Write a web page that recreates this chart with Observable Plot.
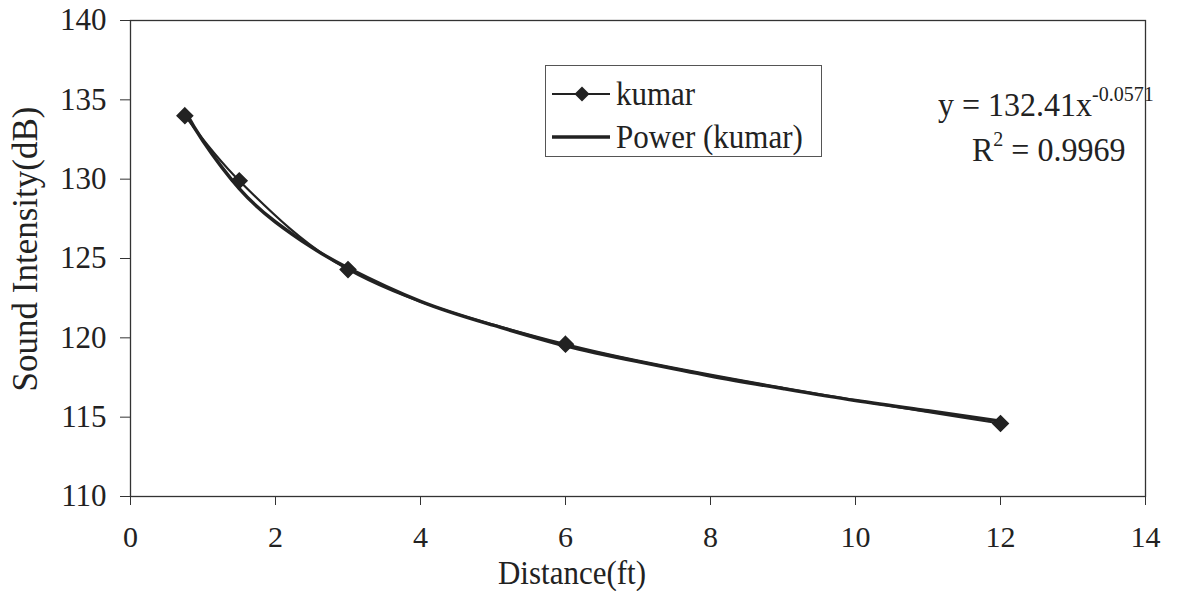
<!DOCTYPE html>
<html>
<head>
<meta charset="utf-8">
<script src="https://cdn.jsdelivr.net/npm/d3@7"></script>
<script src="https://cdn.jsdelivr.net/npm/@observablehq/plot@0.6"></script>
<style>
  html, body { margin: 0; padding: 0; background: #fff; }
  #wrap { position: relative; width: 1181px; height: 591px; font-family: "Liberation Serif", "Times New Roman", serif; color: #222; }
  #wrap > svg { position: absolute; left: 0; top: 0; }
  #wrap svg text { font-family: "Liberation Serif", "Times New Roman", serif; }
  #wrap svg g[aria-label="y-axis tick label"] { font-size: 31px; }
  #wrap svg g[aria-label="x-axis tick label"] { font-size: 30px; }
  .ov { position: absolute; white-space: nowrap; line-height: 1; }
  #ylabel { left: 25px; top: 249px; font-size: 35px; transform: translate(-50%, -50%) rotate(-90deg); }
  #xlabel { left: 572px; top: 573px; font-size: 31px; transform: translate(-50%, -50%) scaleY(1.08); }
  #legend { left: 545px; top: 65px; width: 277px; height: 92px; border: 1.5px solid #555; box-sizing: border-box; background: #fff; }
  .lg { position: absolute; font-size: 31px; transform: translateY(-50%) scaleY(1.08); }
  .lgsym { position: absolute; }
  #eq { left: 938px; top: 84px; font-size: 32px; transform: scaleY(1.08); }
  #eq sup { font-size: 20px; vertical-align: 14px; }
  #r2 { left: 972px; top: 129px; font-size: 32px; transform: scaleY(1.08); }
  #r2 sup { font-size: 20px; vertical-align: 14px; }
</style>
</head>
<body>
<div id="wrap"></div>
<script>
// Series: kumar (measured)
const distance = [0.75, 1.5, 3, 6, 12];
const intensity = [134.0, 129.9, 124.3, 119.6, 114.6];
// Power (kumar) trendline
const trendX = [0.75, 1, 1.5, 2, 2.5, 3, 4, 5, 6, 7, 8, 9, 10, 11, 12];
const trendY = [134.3, 132.4, 129.4, 127.3, 125.7, 124.4, 122.3, 120.8, 119.5, 118.5, 117.6, 116.8, 116.05, 115.4, 114.75];
// Axis ticks
const xTicks = [0, 2, 4, 6, 8, 10, 12, 14];
const yTicks = [110, 115, 120, 125, 130, 135, 140];
// Labels
const seriesName = "kumar";
const trendName = "Power (kumar)";
const xTitle = "Distance(ft)";
const yTitle = "Sound Intensity(dB)";
const eqMain = "y = 132.41x";
const eqExp = "-0.0571";
const r2Text = "= 0.9969";

const measured = distance.map((d, i) => ({x: d, y: intensity[i]}));
const trend = trendX.map((d, i) => ({x: d, y: trendY[i]}));

const chart = Plot.plot({
  width: 1181,
  height: 591,
  marginLeft: 130,
  marginRight: 36,
  marginTop: 20,
  marginBottom: 95,
  style: {fontFamily: "'Liberation Serif', 'Times New Roman', serif", background: "transparent", color: "#222"},
  x: {domain: [0, 14]},
  y: {domain: [110, 140]},
  marks: [
    Plot.frame({stroke: "#333", strokeWidth: 1.3}),
    Plot.axisX({ticks: xTicks, tickSize: 9, tickPadding: 20, fontSize: 30, label: null, stroke: "#333"}),
    Plot.axisY({ticks: yTicks, tickSize: 10, tickPadding: 14, fontSize: 31, label: null, stroke: "#333"}),
    Plot.line(trend, {x: "x", y: "y", curve: "natural", stroke: "#222", strokeWidth: 3.5}),
    Plot.line(measured, {x: "x", y: "y", curve: "catmull-rom", stroke: "#222", strokeWidth: 2.2}),
    Plot.dot(measured, {x: "x", y: "y", symbol: "diamond2", r: 7, fill: "#222", stroke: "#222"})
  ]
});

const wrap = document.getElementById("wrap");
wrap.appendChild(chart);

function add(id, html, cls) {
  const d = document.createElement("div");
  d.className = cls || "ov"; if (id) d.id = id; d.innerHTML = html;
  wrap.appendChild(d);
  return d;
}
add("ylabel", yTitle);
add("xlabel", xTitle);
add("legend", "");
const lgBox = document.getElementById("legend");
function lgRow(cy, symHtml, label) {
  const s = document.createElement("div");
  s.className = "lgsym"; s.style.left = "6px"; s.style.top = (cy - 65 - 10) + "px";
  s.innerHTML = symHtml; lgBox.appendChild(s);
  const t = document.createElement("div");
  t.className = "lg"; t.style.left = "70px"; t.style.top = (cy - 65) + "px";
  t.textContent = label; lgBox.appendChild(t);
}
lgRow(93, `<svg width="60" height="20"><line x1="0" y1="10" x2="58" y2="10" stroke="#222" stroke-width="2.2"/><path d="M30,2.5 L37.5,10 L30,17.5 L22.5,10 Z" fill="#222"/></svg>`, seriesName);
lgRow(136, `<svg width="60" height="20"><line x1="0" y1="10" x2="58" y2="10" stroke="#222" stroke-width="3.5"/></svg>`, trendName);
add("eq", `${eqMain}<sup>${eqExp}</sup>`);
add("r2", `R<sup>2</sup> ${r2Text}`);
</script>
</body>
</html>
